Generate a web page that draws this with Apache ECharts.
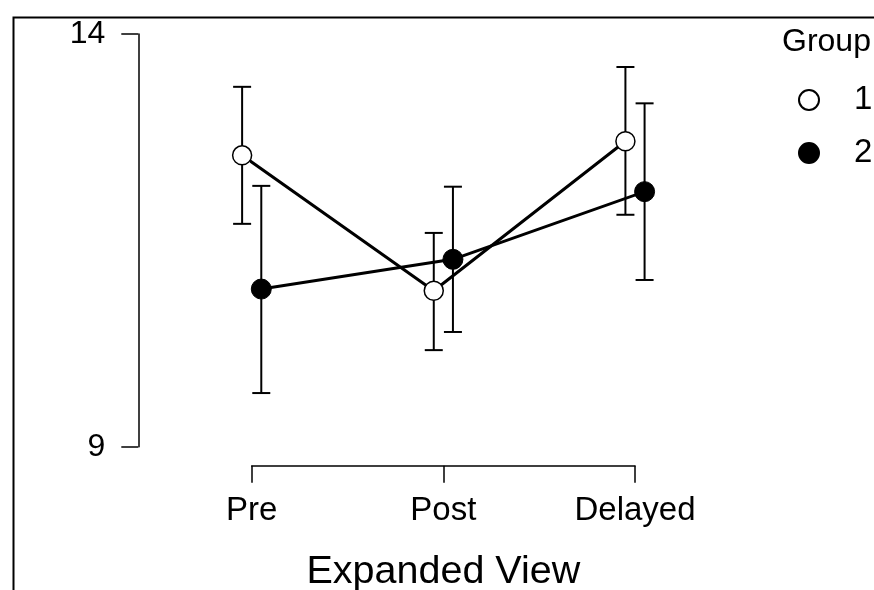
<!DOCTYPE html>
<html>
<head>
<meta charset="utf-8">
<script src="https://cdn.jsdelivr.net/npm/echarts@6/dist/echarts.min.js"></script>
<style>
html,body{margin:0;padding:0;background:#fff;}
#chart{width:874px;height:590px;}
</style>
</head>
<body>
<div id="chart"></div>
<script>
var categories = ['Pre', 'Post', 'Delayed'];
var group1Mean  = [12.53, 10.89, 12.70];
var group1Lower = [11.70, 10.17, 11.81];
var group1Upper = [13.36, 11.59, 13.60];
var group2Mean  = [10.91, 11.27, 12.09];
var group2Lower = [9.65, 10.39, 11.02];
var group2Upper = [12.16, 12.15, 13.16];
var yTicks = [9, 14];
var groupNames = ['1', '2'];
var dodge = 0.05;

var FONT = '"Liberation Sans", Arial, sans-serif';

function pts(mean, off) {
  return mean.map(function (v, i) { return [i + 1 + off, v]; });
}
function bars(lo, hi, off) {
  return lo.map(function (v, i) { return [i + 1 + off, v, hi[i]]; });
}
function errRender(params, api) {
  var x = api.value(0);
  var p1 = api.coord([x, api.value(1)]);
  var p2 = api.coord([x, api.value(2)]);
  var hw = 9;
  var st = { stroke: '#000', lineWidth: 2 };
  return {
    type: 'group',
    children: [
      { type: 'line', shape: { x1: p1[0], y1: p1[1], x2: p2[0], y2: p2[1] }, style: st },
      { type: 'line', shape: { x1: p1[0] - hw, y1: p1[1], x2: p1[0] + hw, y2: p1[1] }, style: st },
      { type: 'line', shape: { x1: p2[0] - hw, y1: p2[1], x2: p2[0] + hw, y2: p2[1] }, style: st }
    ]
  };
}

var chart = echarts.init(document.getElementById('chart'), null, { renderer: 'canvas' });
chart.setOption({
  backgroundColor: '#fff',
  animation: false,
  textStyle: { fontFamily: FONT },
  title: {
    text: 'Group', left: 782, top: 26, padding: 0,
    textStyle: { fontFamily: FONT, fontSize: 32, fontWeight: 'normal', color: '#000' }
  },
  legend: {
    data: groupNames,
    orient: 'vertical',
    left: 798, top: 83.5, padding: 0,
    itemWidth: 20, itemHeight: 20,
    itemGap: 20,
    textStyle: { fontFamily: FONT, fontSize: 33, color: '#000', padding: [0, 0, 0, 30] }
  },
  graphic: [{
    type: 'rect', left: 11, top: 15, z: 100,
    shape: { x: 0, y: 0, width: 1000, height: 1000 },
    style: { fill: 'none', stroke: '#000', lineWidth: 2 }
  }],
  grid: { left: 251.7, right: 239, top: 34, bottom: 143.3, outerBoundsMode: 'none', containLabel: false },
  xAxis: {
    type: 'value', min: 1, max: 3, interval: 1,
    position: 'bottom', offset: 19,
    name: 'Expanded View', nameLocation: 'middle', nameGap: 86,
    nameTextStyle: { fontFamily: FONT, fontSize: 39.5, color: '#000' },
    axisLine: { show: true, lineStyle: { color: '#000', width: 1.5 } },
    axisTick: { show: true, length: 17, inside: false, lineStyle: { color: '#000', width: 1.5 } },
    axisLabel: {
      fontFamily: FONT, fontSize: 33, color: '#000', margin: 29,
      formatter: function (v) { return categories[Math.round(v) - 1] || ''; }
    },
    splitLine: { show: false }
  },
  yAxis: {
    type: 'value', min: yTicks[0], max: yTicks[yTicks.length - 1],
    position: 'left', offset: 113.4,
    axisLine: { show: true, lineStyle: { color: '#000', width: 1.5 } },
    axisTick: { show: true, length: 17, inside: false, customValues: yTicks, lineStyle: { color: '#000', width: 1.5 } },
    axisLabel: { fontFamily: FONT, fontSize: 32, color: '#000', margin: 33, customValues: yTicks },
    splitLine: { show: false }
  },
  series: [
    {
      name: 'line1', type: 'line', data: pts(group1Mean, -dodge), showSymbol: false,
      clip: false, z: 2, lineStyle: { color: '#000', width: 3 }, itemStyle: { color: '#000' }
    },
    {
      name: 'line2', type: 'line', data: pts(group2Mean, dodge), showSymbol: false,
      clip: false, z: 2, lineStyle: { color: '#000', width: 3 }, itemStyle: { color: '#000' }
    },
    {
      name: 'err1', type: 'custom', data: bars(group1Lower, group1Upper, -dodge),
      renderItem: errRender, encode: { x: 0, y: [1, 2] }, clip: false, z: 3
    },
    {
      name: 'err2', type: 'custom', data: bars(group2Lower, group2Upper, dodge),
      renderItem: errRender, encode: { x: 0, y: [1, 2] }, clip: false, z: 3
    },
    {
      name: groupNames[0], type: 'scatter', data: pts(group1Mean, -dodge), symbol: 'circle', symbolSize: 19,
      clip: false, z: 4, itemStyle: { color: '#fff', borderColor: '#000', borderWidth: 1.5, opacity: 1 }
    },
    {
      name: groupNames[1], type: 'scatter', data: pts(group2Mean, dodge), symbol: 'circle', symbolSize: 20,
      clip: false, z: 4, itemStyle: { color: '#000', borderColor: '#000', borderWidth: 1, opacity: 1 }
    }
  ]
});
</script>
</body>
</html>
